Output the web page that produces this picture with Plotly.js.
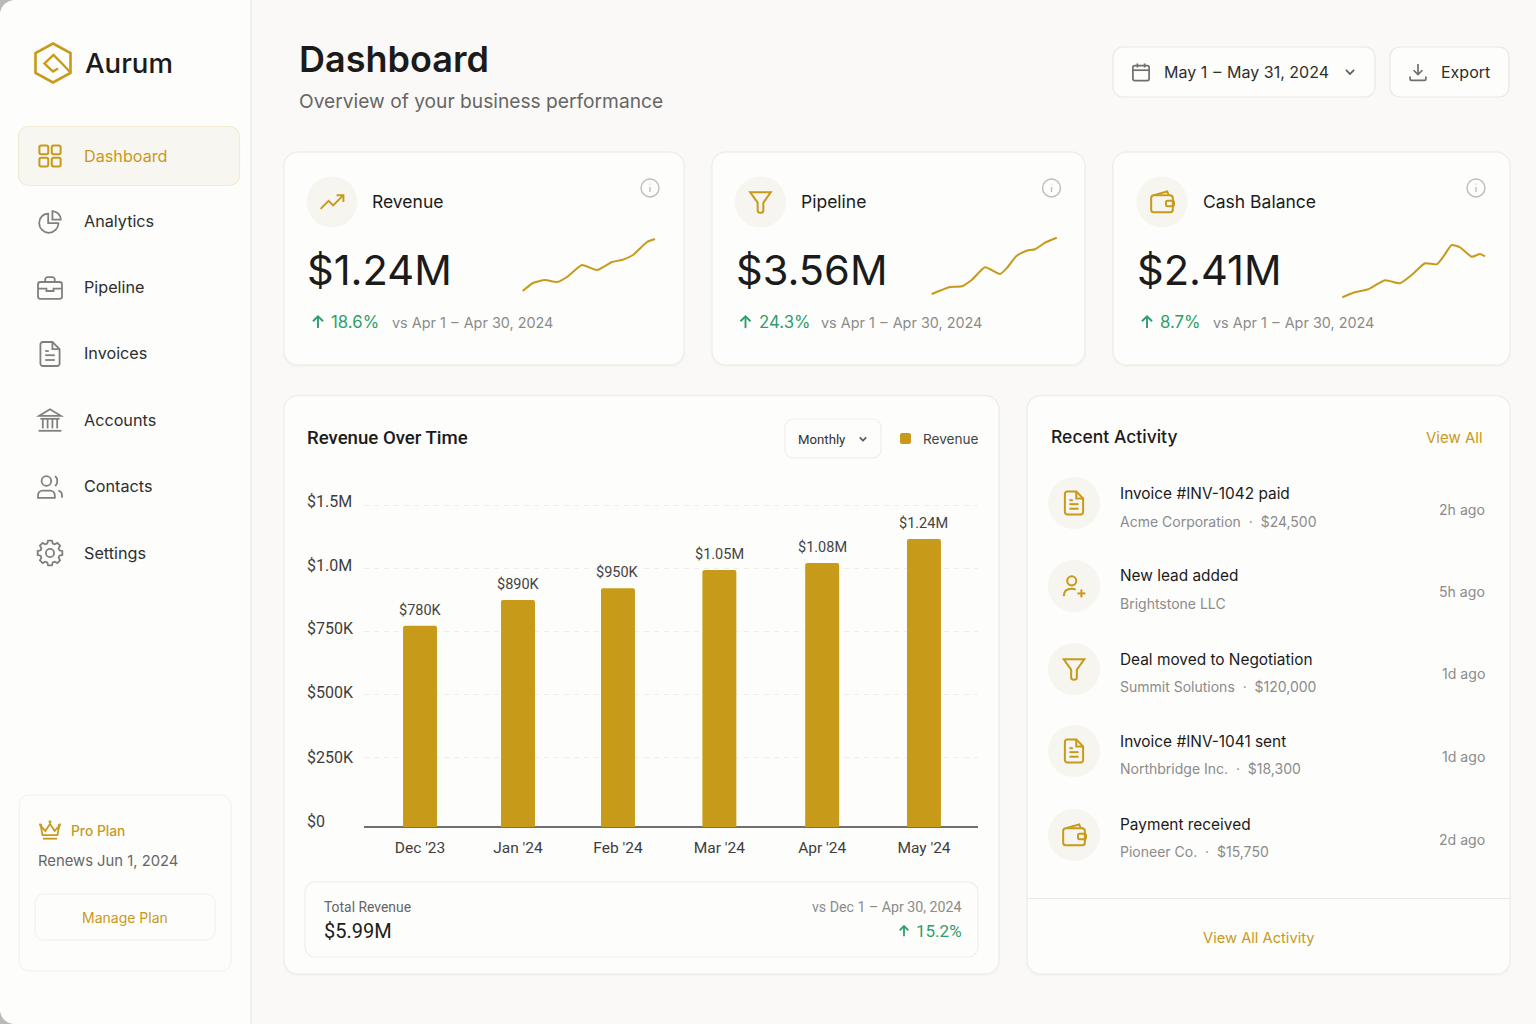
<!DOCTYPE html>
<html><head><meta charset="utf-8">
<script src="https://cdn.plot.ly/plotly-3.0.1.min.js"></script>
<style>html,body{margin:0;padding:0;background:#faf9f7}#c{width:1536px;height:1024px}</style>
</head><body><div id="c"></div>
<script>
// ---------- data ----------
const months=["Dec '23","Jan '24","Feb '24","Mar '24","Apr '24","May '24"];
const barSlots=[0,0.972,1.964,2.97,3.99,5];
const barLabels=["$780K","$890K","$950K","$1.05M","$1.08M","$1.24M"];
const barDrawn=[780,880,926,996,1023,1116];
const tickPositions=[0,271,512,756,1004,1248];
const tickLabels=["$0","$250K","$500K","$750K","$1.0M","$1.5M"];
const sparkRevenueX=[0.7,11,23,35,45,60,75,90,100,111,125,133];
const sparkRevenueY=[4,12,15,13,18,30,25,33,35,40,53,56];
const sparkPipelineX=[0.7,10.7,19,30.7,40.7,54,69,75.7,85.7,95.7,104,114,125.7];
const sparkPipelineY=[3,7,10,10.7,17,29.7,23,28.7,41.3,46.3,47.7,54.3,59.3];
const sparkCashX=[0.3,13,26.3,43,58,69.7,83,94.7,101.3,109.7,118,129.7,138,143];
const sparkCashY=[2.7,7.7,10.7,19.7,16.7,25,36.7,35.7,43.3,55,52.7,43.3,46,43.7];
const navItems=["Dashboard","Analytics","Pipeline","Invoices","Accounts","Contacts","Settings"];
const kpiNames=["Revenue","Pipeline","Cash Balance"];
const kpiValues=["$1.24M","$3.56M","$2.41M"];
const kpiDeltas=["18.6%","24.3%","8.7%"];
const kpiCompare="vs Apr 1\u200a – \u200aApr 30, 2024";
const activityTitles=["Invoice #INV-1042 paid","New lead added","Deal moved to Negotiation","Invoice #INV-1041 sent","Payment received"];
const activitySubs=["Acme Corporation\u00a0\u00a0·\u00a0\u00a0$24,500","Brightstone LLC","Summit Solutions\u00a0\u00a0·\u00a0\u00a0$120,000","Northbridge Inc.\u00a0\u00a0·\u00a0\u00a0$18,300","Pioneer Co.\u00a0\u00a0·\u00a0\u00a0$15,750"];
const activityTimes=["2h ago","5h ago","1d ago","1d ago","2d ago"];

// ---------- helpers ----------
const W=1536,H=1024,GOLD="#c89a1b",GREEN="#2f9e6c",INK="#1b1b1b",NAV="#2e2e2e",GREY="#8b8b8b",MID="#666666",ICON="#808080";
const FONT="Inter, sans-serif",COND="Roboto, sans-serif";
const shapes=[],annotations=[];
const px=x=>x/W, py=y=>1-y/H;
function convert(d){
  return d.replace(/(-?[\d.]+)[ ,]+(-?[\d.]+)/g,(m,a,b)=>px(+a).toFixed(6)+","+py(+b).toFixed(6));
}
function rr(x0,y0,x1,y1,r){const k=r*0.45;
  return `M${x0+r} ${y0} L${x1-r} ${y0} C${x1-k} ${y0} ${x1} ${y0+k} ${x1} ${y0+r} L${x1} ${y1-r} C${x1} ${y1-k} ${x1-k} ${y1} ${x1-r} ${y1} L${x0+r} ${y1} C${x0+k} ${y1} ${x0} ${y1-k} ${x0} ${y1-r} L${x0} ${y0+r} C${x0} ${y0+k} ${x0+k} ${y0} ${x0+r} ${y0} Z`;}
function ci(cx,cy,r){return rr(cx-r,cy-r,cx+r,cy+r,r);}
function shape(d,fill,stroke,w){shapes.push({type:"path",xref:"paper",yref:"paper",layer:"below",path:convert(d),fillcolor:fill||"rgba(0,0,0,0)",line:{color:stroke||"rgba(0,0,0,0)",width:stroke?(w||1):0}});}
function T(text,x,y,size,color,o){o=o||{};annotations.push({text:text,x:px(x),y:py(y),xref:"paper",yref:"paper",xanchor:o.a||"left",yanchor:"middle",showarrow:false,borderpad:0,borderwidth:0,font:{family:o.f||FONT,size:size,color:color,weight:o.w||400}});}
function gear(){let d="";const n=8;for(let i=0;i<n;i++){const a=i*2*Math.PI/n-Math.PI/2,st=2*Math.PI/n;
  const p=(r,t)=>(12+r*Math.cos(a+t)).toFixed(2)+" "+(12+r*Math.sin(a+t)).toFixed(2);
  d+=(i?"L":"M")+p(10.4,-st*0.2)+" L"+p(10.4,st*0.2)+" L"+p(8.2,st*0.36)+" L"+p(8.2,st*0.64)+" ";}
  return d+"Z";}
const ICONS={
 grid:[rr(3,3,10.5,10.5,1.5),rr(13.5,3,21,10.5,1.5),rr(3,13.5,10.5,21,1.5),rr(13.5,13.5,21,21,1.5)],
 pie:["M10.5 5 C6.2 5 3 8.6 3 13 C3 17.4 6.6 21 11 21 C15.4 21 19 17.4 19 13 L10.5 13 Z","M14 3 C18 3.4 20.6 6 21 10 L14 10 Z"],
 case:[rr(2,7,22,21,2),"M8 7 L8 5 C8 4 9 3 10 3 L14 3 C15 3 16 4 16 5 L16 7","M2 12.5 L9 12.5 L9 14.5 L15 14.5 L15 12.5 L22 12.5"],
 file:["M14 2 L6 2 C5 2 4 3 4 4 L4 20 C4 21 5 22 6 22 L18 22 C19 22 20 21 20 20 L20 8 Z","M14 2 L14 8 L20 8","M8 13 L16 13","M8 17 L16 17","M8 9.5 L11 9.5"],
 bank:["M3 8.5 L12 3 L21 8.5 Z","M4 11 L20 11","M6 11 L6 19","M10 11 L10 19","M14 11 L14 19","M18 11 L18 19","M2.5 21 L21.5 21"],
 users:[ci(9,7,4),"M2 21 L2 19 C2 16.8 3.8 15 6 15 L12 15 C14.2 15 16 16.8 16 19 L16 21 Z","M16 3.1 C18.7 3.8 18.7 10.2 16 10.9","M22 21 L22 19 C22 17 20.6 15.5 19 15.1"],
 gear:[gear(),ci(12,12,3.4)],
 crown:["M3 8 L7.5 13 L12 6 L16.5 13 L21 8 L19.3 17 L4.7 17 Z","M5 20.5 L19 20.5",ci(2.8,7,.6),ci(12,4,.6),ci(21.2,7,.6)],
 calendar:[rr(3,5,21,21.5,2),"M8 2.5 L8 7","M16 2.5 L16 7","M3 10 L21 10"],
 chevron:["M6 9 L12 15 L18 9"],
 download:["M12 3 L12 15","M7 10 L12 15 L17 10","M3 17 L3 20 C3 21 4 21.5 4.5 21.5 L19.5 21.5 C20 21.5 21 21 21 20 L21 17"],
 trend:["M2 18 L9 11 L13 15 L22 6","M16 6 L22 6 L22 12"],
 funnel:["M3 3.5 L21 3.5 L14.5 12.5 L14.5 19.5 C14.5 21 13.4 21.5 12 21.5 C10.6 21.5 9.5 21 9.5 19.5 L9.5 12.5 Z"],
 wallet:[rr(2.5,6,21.5,21,2.5),"M5 6 L16.5 2.8 L18 6",rr(15.5,10.8,22.5,15.8,1.5)],
 userplus:[ci(10,7.5,4),"M3 21 C3 16.5 6 14.5 10 14.5 C11.5 14.5 12.5 14.8 13.5 15.2","M15 18.5 L22 18.5","M18.5 15 L18.5 22"],
 info:[ci(12,12,10),"M12 11 L12 16.5","M12 7.4 L12 8"],
 up:["M12 20.5 L12 4","M5 11 L12 4 L19 11"]
};
function icon(name,cx,cy,s,color,w){
  ICONS[name].forEach(d=>{
    const out=d.replace(/(-?[\d.]+)[ ,]+(-?[\d.]+)/g,(m,a,b)=>((+a-12)*s+cx).toFixed(2)+" "+((+b-12)*s+cy).toFixed(2));
    shape(out,null,color,w);
  });
}

// ---------- page furniture ----------
const CARD="#fdfdfb",EDGE="#efeee9";
function card(x0,y0,x1,y1,r){shape(rr(x0-1,y0,x1+1,y1+2,r),"#f5f4ef");shape(rr(x0,y0,x1,y1,r),CARD,EDGE,1.3);}
shape(`M0 0 L251 0 L251 1024 L0 1024 Z`,"#fdfdfb");
shape(`M251 0 L251 1024`,null,"#f1f0ec",2);
shape("M0 0 L14 0 C6 1 1 6 0 13 Z","#b9b9b7");
shape("M0 1024 L13 1024 C6 1023 1 1018 0 1011 Z","#b9b9b7");

// logo
shape("M53 43.5 L70.5 53 L70.5 73 L53 82.5 L35.5 73 L35.5 53 Z",null,GOLD,2.6);
shape("M58 68.5 L53 71.5 L44.5 63.5 L53.5 55 L62 63.5 L70.5 72.5",null,GOLD,2.4);
T("Aurum",85,62.5,27.6,INK,{w:500});

// nav
shape(rr(18.5,126.5,239.5,185.5,10),"#f8f6f0","#f2ebd3",1.2);
const navY=[156,222,288,354,420,487,553];
const navTextY=[155.5,221,287,353,420,486,553];
const navIcons=["grid","pie","case","file","bank","users","gear"];
navItems.forEach((n,i)=>{T(n,84,navTextY[i],16.2,i?NAV:GOLD);
  icon(navIcons[i],50,navY[i],i?1.2:1.18,i?ICON:GOLD,i?1.8:2);});

// plan card
shape(rr(19,795,231,971,10),CARD,"#f1f0ea",1);
icon("crown",50,830,1.02,GOLD,1.8);
T("Pro Plan",71,831,13.8,GOLD,{w:500});
T("Renews Jun 1, 2024",38,861,14.8,MID);
shape(rr(35,894,215,940,9),"#fdfdfc","#f0efe9",1);
T("Manage Plan",125,917,14,GOLD,{a:"center"});

// header
T("Dashboard",299,59,36,INK,{w:600});
T("Overview of your business performance",299,101,19.2,MID);
shape(rr(1113,47,1375,97,10),CARD,"#e8e7e2",1.2);
icon("calendar",1141,72,.9,"#6f6f6f",1.7);
T("May 1\u200a – \u200aMay 31, 2024",1164,72,16,NAV);
icon("chevron",1350,72,.68,"#5c5c5c",1.7);
shape(rr(1390,47,1509,97,10),CARD,"#e8e7e2",1.2);
icon("download",1418,72,.88,"#6f6f6f",1.7);
T("Export",1441,72,16,NAV);

// KPI cards
const kpiBoxes=[[284,684],[712,1085],[1113,1510]];
const kpiIcons=["trend","funnel","wallet"];
const kpiCx=[332,760.5,1162], kpiName=[372,801,1203], kpiVal=[307,736,1137], kpiArr=[318,745.5,1147], kpiD=[331,759,1160], kpiC=[392,821,1213], kpiInfo=[650,1051.5,1476];
kpiBoxes.forEach((b,i)=>{
  card(b[0],152,b[1],365,14);
  shape(ci(kpiCx[i],202,25.5),"#f6f5ef");
  icon(kpiIcons[i],kpiCx[i],202,1.14,GOLD,2);
  T(kpiNames[i],kpiName[i],201,17.5,INK);
  T(kpiValues[i],kpiVal[i],270,41.6,INK);
  icon("up",kpiArr[i],322,.72,GREEN,1.9);
  T(kpiDeltas[i],kpiD[i],322,16.8,GREEN);
  T(kpiCompare,kpiC[i],322,14.4,GREY);
  icon("info",kpiInfo[i],188,.9,"#bdbdbd",1.4);
});

// revenue card
card(284,395.5,999,974,14);
T("Revenue Over Time",307,438,18.6,INK,{w:500,f:COND});
shape(rr(785,419,881,458,8),CARD,"#efeee8",1.2);
T("Monthly",798,439,13.2,"#333333",{f:COND});
icon("chevron",863,439,.55,"#555555",1.5);
shape(rr(900,433,911,444,2),GOLD);
T("Revenue",923,439,13.6,"#444444");
shape(rr(305,882,978,957,10),CARD,"#efeee9",1.2);
T("Total Revenue",324,907,13.9,MID,{f:COND});
T("$5.99M",324,931,20,INK,{f:COND});
T("vs Dec 1 – Apr 30, 2024",962,907,14.2,GREY,{a:"right",f:COND});
T("15.2%",962,931,17,GREEN,{a:"right",f:COND});
icon("up",904,931,.62,GREEN,1.8);

// activity card
card(1027,395.5,1510,974,14);
T("Recent Activity",1051,436,17.5,INK,{w:500});
T("View All",1483,437,15,GOLD,{a:"right"});
shape("M1027 898.5 L1510 898.5",null,"#e9e8e3",1);
T("View All Activity",1259,938,14.7,GOLD,{a:"center"});
const actC=[503,586,669,751,835],actT=[493,575,659,741,824],actS=[521,603,686,768,851],actR=[510,592,674,757,840];
const actIcons=["file","userplus","funnel","file","wallet"];
activityTitles.forEach((t,i)=>{
  shape(ci(1074,actC[i],26),"#f6f5ef");
  icon(actIcons[i],1074,actC[i],1.14,GOLD,2);
  T(t,1120,actT[i],15.4,INK);
  T(activitySubs[i],1120,actS[i],14,GREY);
  T(activityTimes[i],1485,actR[i],14.1,GREY,{a:"right"});
});

// bar value labels and y tick labels, positioned through the chart's own axes
barLabels.forEach((t,i)=>annotations.push({text:t,x:barSlots[i],y:barDrawn[i],xref:"x",yref:"y",yanchor:"bottom",xanchor:"center",yshift:7,showarrow:false,borderpad:0,borderwidth:0,font:{family:COND,size:14.5,color:"#444444"}}));
const tickShift=[6,0,2,3,3,4];
tickLabels.forEach((t,i)=>annotations.push({text:t,x:px(307),xref:"paper",y:tickPositions[i],yref:"y",xanchor:"left",yanchor:"middle",yshift:tickShift[i],showarrow:false,borderpad:0,borderwidth:0,font:{family:COND,size:16,color:"#3d3d3d"}}));

// ---------- traces ----------
const spark=(x,y,xa,ya)=>({type:"scatter",mode:"lines",x:x,y:y,xaxis:xa,yaxis:ya,hoverinfo:"skip",showlegend:false,line:{color:GOLD,width:2,shape:"spline",smoothing:.5}});
const traces=[
 {type:"bar",name:"Revenue",x:barSlots,y:barDrawn,width:0.337,marker:{color:"#c89a1a",cornerradius:2},hoverinfo:"skip",showlegend:false},
 spark(sparkRevenueX,sparkRevenueY,"x2","y2"),
 spark(sparkPipelineX,sparkPipelineY,"x3","y3"),
 spark(sparkCashX,sparkCashY,"x4","y4")
];
const dx=(a,b)=>[a/W,b/W], dy=(a,b)=>[1-b/H,1-a/H];
const hidden=(dom,range,anchor)=>({domain:dom,range:range,visible:false,fixedrange:true,anchor:anchor});
const layout={
 width:W,height:H,margin:{l:0,r:0,t:0,b:0},paper_bgcolor:"#faf9f7",plot_bgcolor:"rgba(0,0,0,0)",
 font:{family:FONT},showlegend:false,shapes:shapes,annotations:annotations,
 xaxis:{domain:dx(364,978),range:[-0.556,5.536],type:"linear",anchor:"y",tickmode:"array",tickvals:barSlots,ticktext:months,
   showgrid:false,zeroline:false,showline:false,ticks:"",ticklen:0,ticklabelstandoff:9,tickfont:{family:COND,size:15.5,color:"#3d3d3d"},fixedrange:true},
 yaxis:{domain:dy(495,827),range:[0,1287],anchor:"x",tickmode:"array",tickvals:tickPositions,ticktext:tickLabels,showticklabels:false,
   showgrid:true,gridcolor:"#eeede8",griddash:"5px,5px",gridwidth:1,zeroline:true,zerolinecolor:"#6f6f6f",zerolinewidth:1.5,showline:false,ticks:"",fixedrange:true},
 xaxis2:hidden(dx(522,656),[0,134],"y2"), yaxis2:hidden(dy(235,295),[0,60],"x2"),
 xaxis3:hidden(dx(931,1058),[0,127],"y3"), yaxis3:hidden(dy(235,297),[0,62],"x3"),
 xaxis4:hidden(dx(1342,1486),[0,144],"y4"), yaxis4:hidden(dy(242,300),[0,58],"x4")
};
Plotly.newPlot("c",traces,layout,{displayModeBar:false,staticPlot:true});
</script></body></html>
